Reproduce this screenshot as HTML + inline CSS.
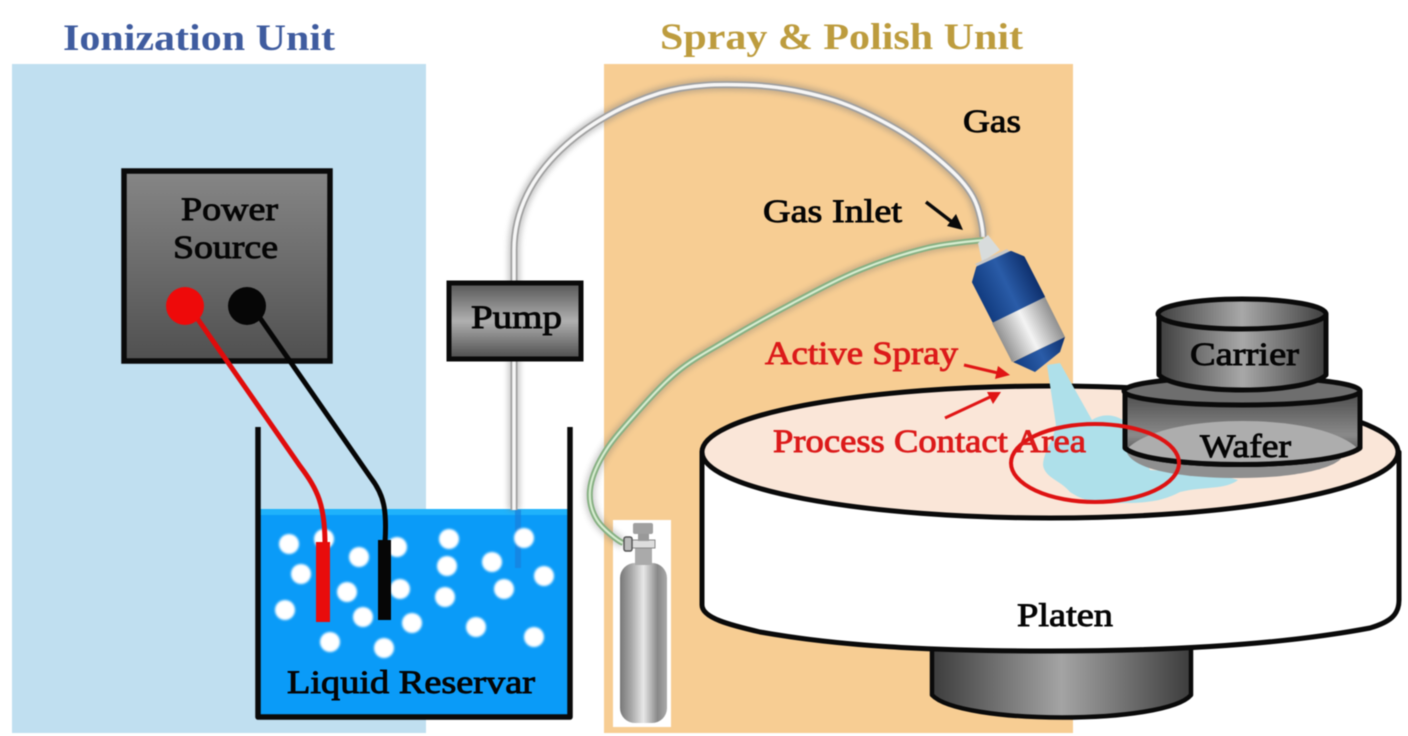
<!DOCTYPE html>
<html><head><meta charset="utf-8"><style>
html,body{margin:0;padding:0;background:#fff}
svg{display:block;filter:blur(.5px)}
text{font-family:"Liberation Serif",serif;font-size:33px;fill:#050505;stroke:#050505;stroke-width:.9;}
.r{fill:#dc1a1a;stroke:#dc1a1a}
</style></head><body>
<svg width="1408" height="736" viewBox="0 0 1408 736" xmlns="http://www.w3.org/2000/svg">
<defs>
<linearGradient id="ps" x1="0" y1="0" x2="0" y2="1"><stop offset="0" stop-color="#868686"/><stop offset="1" stop-color="#505050"/></linearGradient>
<linearGradient id="pu" x1="0" y1="0" x2="0" y2="1"><stop offset="0" stop-color="#555"/><stop offset=".5" stop-color="#b0b0b0"/><stop offset="1" stop-color="#4c4c4c"/></linearGradient>
<linearGradient id="cy" x1="0" y1="0" x2="1" y2="0"><stop offset="0" stop-color="#3e3e3e"/><stop offset=".5" stop-color="#a8a8a8"/><stop offset="1" stop-color="#3e3e3e"/></linearGradient>
<linearGradient id="cv" x1="0" y1="0" x2="0" y2="1"><stop offset="0" stop-color="#4a4a4a"/><stop offset=".6" stop-color="#8a8a8a"/><stop offset="1" stop-color="#3a3a3a"/></linearGradient>
<linearGradient id="base" x1="0" y1="0" x2="1" y2="0"><stop offset="0" stop-color="#3c3c3c"/><stop offset=".5" stop-color="#a4a4a4"/><stop offset="1" stop-color="#3c3c3c"/></linearGradient>
<linearGradient id="tank" x1="0" y1="0" x2="1" y2="0"><stop offset="0" stop-color="#777"/><stop offset=".25" stop-color="#aaa"/><stop offset=".5" stop-color="#e8e8e8"/><stop offset=".8" stop-color="#888"/><stop offset="1" stop-color="#aaa"/></linearGradient>
<linearGradient id="blue" gradientUnits="userSpaceOnUse" x1="972" y1="281" x2="1025" y2="255"><stop offset="0" stop-color="#123c80"/><stop offset=".5" stop-color="#2a5ca8"/><stop offset="1" stop-color="#0e2f6c"/></linearGradient>
<linearGradient id="silver" gradientUnits="userSpaceOnUse" x1="992" y1="323" x2="1045" y2="297"><stop offset="0" stop-color="#909090"/><stop offset=".5" stop-color="#f4f4f4"/><stop offset="1" stop-color="#909090"/></linearGradient>
<linearGradient id="tip" gradientUnits="userSpaceOnUse" x1="1013" y1="362" x2="1065" y2="337"><stop offset="0" stop-color="#123c80"/><stop offset=".5" stop-color="#2a5ca8"/><stop offset="1" stop-color="#0e2f6c"/></linearGradient>
<filter id="b1" x="-20%" y="-20%" width="140%" height="140%"><feGaussianBlur stdDeviation="1"/></filter>
<filter id="b3" x="-20%" y="-20%" width="140%" height="140%"><feGaussianBlur stdDeviation="3"/></filter>
</defs>

<rect width="1408" height="736" fill="#fff"/>
<rect x="12" y="64" width="414" height="669" fill="#c0dff0"/>
<rect x="604" y="64" width="469" height="669" fill="#f7cd93"/>

<text x="63" y="50" textLength="272" lengthAdjust="spacingAndGlyphs" style="font-size:37px;font-weight:bold;fill:#3f5c9f;stroke:none">Ionization  Unit</text>
<text x="660" y="49" textLength="363" lengthAdjust="spacingAndGlyphs" style="font-size:37px;font-weight:bold;fill:#bd9c3e;stroke:none">Spray &amp; Polish Unit</text>

<!-- tank + water -->
<rect x="260" y="510" width="308" height="206" fill="#0a9bf8"/>
<rect x="260" y="509" width="308" height="6" fill="#1fb2fb"/>

<!-- gas cylinder backing -->
<rect x="613" y="520" width="58" height="207" fill="#fff"/>

<!-- gray tube -->
<g fill="none">
<path d="M514 510 L514 250 C514 170 590 115 660 93 C690 84 719 84.2 747 85 C774.8 85.8 802.7 91 827 98 C851.3 105 873.7 116.2 893 127 C912.3 137.8 929.7 151.3 943 163 C956.3 174.7 966.3 184.7 973 197 C979.7 209.3 983 228 983 237" stroke="#777" stroke-width="12" opacity=".4" filter="url(#b3)"/>
<path d="M514 510 L514 250 C514 170 590 115 660 93 C690 84 719 84.2 747 85 C774.8 85.8 802.7 91 827 98 C851.3 105 873.7 116.2 893 127 C912.3 137.8 929.7 151.3 943 163 C956.3 174.7 966.3 184.7 973 197 C979.7 209.3 983 228 983 237" stroke="#a0a0a0" stroke-width="7"/>
<path d="M514 510 L514 250 C514 170 590 115 660 93 C690 84 719 84.2 747 85 C774.8 85.8 802.7 91 827 98 C851.3 105 873.7 116.2 893 127 C912.3 137.8 929.7 151.3 943 163 C956.3 174.7 966.3 184.7 973 197 C979.7 209.3 983 228 983 237" stroke="#f6f6f6" stroke-width="3.5"/>
</g>
<rect x="515" y="510" width="6" height="58" fill="#1a7fdc" opacity=".7"/>

<!-- green tube -->
<g fill="none">
<path d="M983 240 C973.7 241.3 947.5 243 927 248 C906.5 253 882.3 260.8 860 270 C837.7 279.2 815.2 291.3 793 303 C770.8 314.7 746.3 328.5 727 340 C707.7 351.5 692.8 359 677 372 C661.2 385 644.3 404.2 632 418 C619.7 431.8 610 443 603 455 C596 467 591 479.2 590 490 C589 500.8 591.5 511.2 597 520 C602.5 528.8 618 541 623 543" stroke="#666" stroke-width="11" opacity=".3" filter="url(#b3)"/>
<path d="M983 240 C973.7 241.3 947.5 243 927 248 C906.5 253 882.3 260.8 860 270 C837.7 279.2 815.2 291.3 793 303 C770.8 314.7 746.3 328.5 727 340 C707.7 351.5 692.8 359 677 372 C661.2 385 644.3 404.2 632 418 C619.7 431.8 610 443 603 455 C596 467 591 479.2 590 490 C589 500.8 591.5 511.2 597 520 C602.5 528.8 618 541 623 543" stroke="#86b082" stroke-width="6"/>
<path d="M983 240 C973.7 241.3 947.5 243 927 248 C906.5 253 882.3 260.8 860 270 C837.7 279.2 815.2 291.3 793 303 C770.8 314.7 746.3 328.5 727 340 C707.7 351.5 692.8 359 677 372 C661.2 385 644.3 404.2 632 418 C619.7 431.8 610 443 603 455 C596 467 591 479.2 590 490 C589 500.8 591.5 511.2 597 520 C602.5 528.8 618 541 623 543" stroke="#d6ecd0" stroke-width="2.2"/>
</g>

<!-- bubbles -->
<g fill="#fff" filter="url(#b1)">
<circle cx="289" cy="544" r="10"/><circle cx="324" cy="539" r="10"/><circle cx="301" cy="574" r="10"/><circle cx="359" cy="557" r="10"/><circle cx="397" cy="547" r="10"/><circle cx="347" cy="592" r="10"/><circle cx="285" cy="610" r="10"/><circle cx="363" cy="617" r="10"/><circle cx="400" cy="589" r="10"/><circle cx="412" cy="623" r="10"/><circle cx="330" cy="642" r="10"/><circle cx="384" cy="648" r="10"/><circle cx="449" cy="539" r="10"/><circle cx="447" cy="566" r="10"/><circle cx="445" cy="597" r="10"/><circle cx="492" cy="562" r="10"/><circle cx="524" cy="538" r="10"/><circle cx="544" cy="576" r="10"/><circle cx="504" cy="589" r="10"/><circle cx="476" cy="627" r="10"/><circle cx="534" cy="637" r="10"/>
</g>

<path d="M258 427 V717 H570 V427" fill="none" stroke="#0a0a0a" stroke-width="5.5" stroke-linejoin="round"/>

<!-- power source -->
<rect x="124" y="171" width="206" height="190" fill="url(#ps)" stroke="#0a0a0a" stroke-width="5.5"/>
<text x="181" y="220" textLength="97" lengthAdjust="spacingAndGlyphs">Power</text>
<text x="173" y="258" textLength="105" lengthAdjust="spacingAndGlyphs">Source</text>
<path d="M197 318 L300 466 C318 490 325 505 325 545" fill="none" stroke="#e00c0c" stroke-width="5"/>
<path d="M260 318 L371 478 C384 495 387 510 385 542" fill="none" stroke="#060606" stroke-width="5"/>
<circle cx="185" cy="306" r="19" fill="#ee0a0a"/>
<circle cx="247" cy="306" r="19" fill="#060606"/>
<rect x="316" y="542" width="14" height="80" fill="#e80c0c"/>
<rect x="378" y="540" width="13" height="80" fill="#060606"/>

<!-- pump -->
<rect x="449" y="283" width="132" height="76" fill="url(#pu)" stroke="#0a0a0a" stroke-width="5"/>
<text x="471" y="328" textLength="91" lengthAdjust="spacingAndGlyphs">Pump</text>

<text x="287" y="693" textLength="248" lengthAdjust="spacingAndGlyphs">Liquid Reservar</text>

<!-- gas cylinder -->
<rect x="620" y="563" width="47" height="160" rx="15" fill="url(#tank)"/>
<rect x="635" y="548" width="17" height="17" fill="#aaa"/>
<rect x="632" y="540" width="23" height="8" fill="#ddd" stroke="#888" stroke-width="1"/>
<rect x="638" y="533" width="11" height="8" fill="#999"/>
<rect x="633" y="523" width="20" height="11" rx="2" fill="#a0a0a0"/>
<rect x="624" y="537" width="8" height="14" rx="2" fill="#bbb" stroke="#555" stroke-width="1.5"/>

<!-- platen -->
<path d="M932 645 V695 C960 725 1165 725 1191 695 V645 Z" fill="url(#base)" stroke="#0a0a0a" stroke-width="4.5" stroke-linejoin="round"/>
<path d="M702 452 V605 C702 618 730 625 760 632 C850 648 950 651 1050 651 C1170 651 1280 645 1370 628 C1390 622 1399 615 1399 600 V452 Z" fill="#fff" stroke="#0a0a0a" stroke-width="5" stroke-linejoin="round"/>
<ellipse cx="1050" cy="452" rx="348" ry="66" fill="#fae6d8" stroke="#0a0a0a" stroke-width="5"/>
<text x="1017" y="626" textLength="96" lengthAdjust="spacingAndGlyphs">Platen</text>

<!-- spray + puddle -->
<path d="M1047 365 L1060 363 L1092 420 C1105 412 1118 415 1130 425 L1150 470 C1180 472 1215 472 1238 480 C1225 490 1205 486 1180 492 C1165 500 1150 503 1125 503 C1100 504 1085 502 1070 492 C1060 480 1045 478 1043 465 C1044 450 1052 445 1056 425 Z" fill="#aee0ea"/>

<!-- wafer -->
<path d="M1127 453 L1343 453 C1345 466 1300 478 1240 478 C1180 478 1135 470 1127 453 Z" fill="#8f8f8f"/>
<path d="M1125 391 V448 C1150 470 1330 470 1360 448 V391 Z" fill="url(#cv)" stroke="#0a0a0a" stroke-width="5" stroke-linejoin="round"/>
<path d="M1128 448 C1165 412 1320 412 1357 448 C1320 470 1165 470 1128 448 Z" fill="#adadad"/>
<path d="M1125 448 C1150 470 1330 470 1360 448" fill="none" stroke="#0a0a0a" stroke-width="5"/>
<ellipse cx="1242" cy="391" rx="118" ry="14" fill="#6e6e6e" stroke="#0a0a0a" stroke-width="5"/>
<text x="1200" y="457" textLength="91" lengthAdjust="spacingAndGlyphs">Wafer</text>

<!-- carrier -->
<path d="M1159 314 V375 C1180 395 1305 395 1326 375 V314 Z" fill="url(#cy)" stroke="#0a0a0a" stroke-width="5" stroke-linejoin="round"/>
<ellipse cx="1242" cy="314" rx="84" ry="15" fill="url(#cy)" stroke="#0a0a0a" stroke-width="5"/>
<text x="1190" y="365" textLength="109" lengthAdjust="spacingAndGlyphs">Carrier</text>

<!-- nozzle -->
<polygon points="978,243 988,235 1000,250 982,262" fill="#d8dcdc"/>
<polygon points="975,264 1007,249 1012,254 980,269" fill="#c8c8c8"/>
<polygon points="978,268 1011,253 1023,258 1043,297 994,321 974,282" fill="url(#blue)" stroke="url(#blue)" stroke-width="4" stroke-linejoin="round"/>
<polygon points="992,323 1045,297 1065,337 1012,362" fill="url(#silver)"/>
<polygon points="1013,362 1065,337 1060,352 1035,372" fill="url(#tip)"/>

<!-- red ellipse -->
<ellipse cx="1095" cy="463" rx="84" ry="39" fill="none" stroke="#de1212" stroke-width="4"/>

<!-- labels + arrows -->
<text x="963" y="132" textLength="58" lengthAdjust="spacingAndGlyphs">Gas</text>
<text x="763" y="222" textLength="139" lengthAdjust="spacingAndGlyphs">Gas Inlet</text>
<path d="M926 202 L952 222" stroke="#0a0a0a" stroke-width="3.5"/>
<polygon points="963,230 947,226 956,214" fill="#0a0a0a"/>
<text class="r" x="765" y="364" textLength="193" lengthAdjust="spacingAndGlyphs">Active Spray</text>
<text class="r" x="773" y="452" textLength="313" lengthAdjust="spacingAndGlyphs">Process Contact Area</text>
<path d="M964 365 L998 373" stroke="#e01515" stroke-width="3"/>
<polygon points="1010,375 995,379 998,366" fill="#e01515"/>
<path d="M945 418 L990 397" stroke="#e01515" stroke-width="3"/>
<polygon points="1001,392 993,404 987,392" fill="#e01515"/>
</svg>
</body></html>
